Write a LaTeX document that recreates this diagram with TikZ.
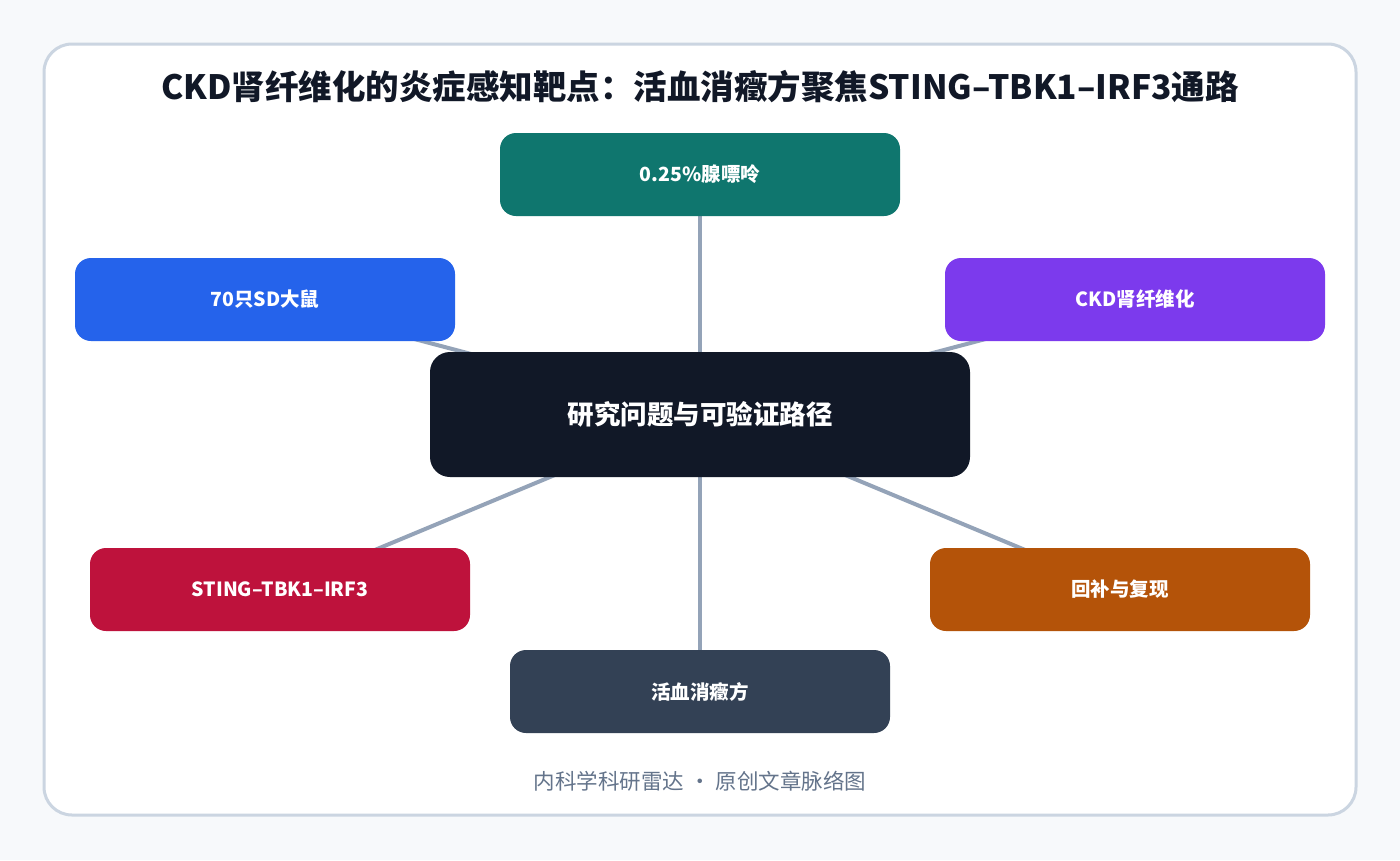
\documentclass[tikz,border=0pt]{standalone}
\usepackage{fontspec}
\newfontfamily\cjk{Noto Sans CJK SC}
\usetikzlibrary{backgrounds}
\definecolor{pagebg}{HTML}{F7F9FB}
\definecolor{cardline}{HTML}{CBD5E1}
\definecolor{ink}{HTML}{111827}
\definecolor{linkgray}{HTML}{94A3B8}
\definecolor{footgray}{HTML}{64748B}
\definecolor{cteal}{HTML}{0F766E}
\definecolor{cblue}{HTML}{2563EB}
\definecolor{cviolet}{HTML}{7C3AED}
\definecolor{ccrimson}{HTML}{BE123C}
\definecolor{camber}{HTML}{B45309}
\definecolor{cslate}{HTML}{334155}
\tikzset{
    leaf/.style={rounded corners=16pt, minimum width=380pt, minimum height=83pt,
        text=white, font=\cjk\bfseries\fontsize{19.5}{23}\selectfont},
    link/.style={linkgray, line width=4pt}
}
\begin{document}
\begin{tikzpicture}[x=1pt, y=-1pt]
    \useasboundingbox (0,0) rectangle (1400,860);

    % nodes
    \node[fill=ink, rounded corners=20pt, minimum width=540pt, minimum height=125pt,
        text=white, font=\cjk\bfseries\fontsize{26.5}{30}\selectfont] (core) at (700,414.5) {研究问题与可验证路径};
    \node[leaf, fill=cteal, minimum width=400pt] (dose) at (700,174.5) {0.25\%腺嘌呤};
    \node[leaf, fill=cblue] (rats) at (265,299.5) {70只SD大鼠};
    \node[leaf, fill=cviolet] (ckd) at (1135,299.5) {CKD肾纤维化};
    \node[leaf, fill=ccrimson] (sting) at (280,589.5) {STING–TBK1–IRF3};
    \node[leaf, fill=camber] (rescue) at (1120,589.5) {回补与复现};
    \node[leaf, fill=cslate] (herb) at (700,691.5) {活血消癥方};

    % title and footer
    \node[text=ink, font=\cjk\bfseries\fontsize{33.5}{38}\selectfont] (title) at (700,87)
        {CKD肾纤维化的炎症感知靶点：活血消癥方聚焦STING–TBK1–IRF3通路};
    \node[text=footgray, font=\cjk\fontsize{21.5}{25}\selectfont] (foot) at (700,781)
        {内科学科研雷达 · 原创文章脉络图};

    % card and links
    \begin{scope}[on background layer]
        \fill[pagebg] (0,0) rectangle (1400,860);
        \draw[cardline, line width=3pt, fill=white, rounded corners=28pt] (44,44) rectangle (1356,815);
        \foreach \leafname in {dose,rats,ckd,sting,rescue,herb}
            \draw[link] (core.center) -- (\leafname.center);
    \end{scope}
\end{tikzpicture}
\end{document}
